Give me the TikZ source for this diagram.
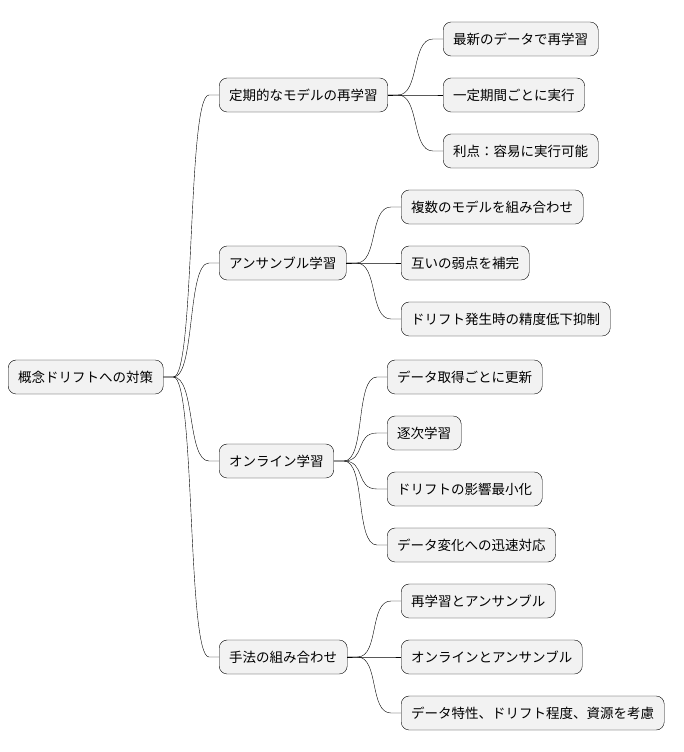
\documentclass[tikz,border=0pt]{standalone}
\usepackage{fontspec}
\setmainfont{Noto Sans CJK JP}
\begin{document}
\begin{tikzpicture}[x=1pt,y=-1pt,
    box/.style={draw, rounded corners=8pt, fill=gray!10, minimum height=34pt,
      inner xsep=10pt, anchor=west, font=\fontsize{13.5}{16}\selectfont},
    link/.style={to path={(\tikztostart) -- ++(10,0) .. controls +(22,0) and +(-22,0) .. ([xshift=-10pt]\tikztotarget) -- (\tikztotarget)}}]
  \useasboundingbox (0,0) rectangle (684,752);
  % root and main branches
  \node[box] (root) at (8,377) {概念ドリフトへの対策};
  \node[box] (retrain) at (219,95) {定期的なモデルの再学習};
  \node[box] (ensemble) at (219,263) {アンサンブル学習};
  \node[box] (online) at (219,461) {オンライン学習};
  \node[box] (combo) at (219,657) {手法の組み合わせ};
  % leaves
  \node[box] (r1) at (443,39) {最新のデータで再学習};
  \node[box] (r2) at (443,95) {一定期間ごとに実行};
  \node[box] (r3) at (443,151) {利点：容易に実行可能};
  \node[box] (e1) at (401,207) {複数のモデルを組み合わせ};
  \node[box] (e2) at (401,263) {互いの弱点を補完};
  \node[box] (e3) at (401,319) {ドリフト発生時の精度低下抑制};
  \node[box] (o1) at (387,377) {データ取得ごとに更新};
  \node[box] (o2) at (387,433) {逐次学習};
  \node[box] (o3) at (387,489) {ドリフトの影響最小化};
  \node[box] (o4) at (387,545) {データ変化への迅速対応};
  \node[box] (c1) at (401,601) {再学習とアンサンブル};
  \node[box] (c2) at (401,657) {オンラインとアンサンブル};
  \node[box] (c3) at (401,713) {データ特性、ドリフト程度、資源を考慮};
  % connectors
  \foreach \a/\b in {root/retrain, root/ensemble, root/online, root/combo,
      retrain/r1, retrain/r2, retrain/r3, ensemble/e1, ensemble/e2, ensemble/e3,
      online/o1, online/o2, online/o3, online/o4, combo/c1, combo/c2, combo/c3}
    \draw[link] (\a.east) to (\b.west);
\end{tikzpicture}
\end{document}
